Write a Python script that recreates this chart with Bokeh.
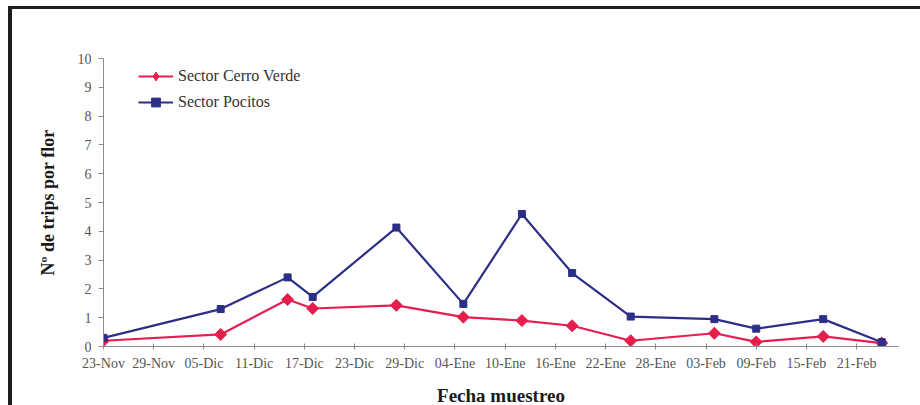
from math import pi
from bokeh.plotting import figure
from bokeh.models import FixedTicker, Legend, LegendItem
from bokeh.embed import file_html
from bokeh.resources import INLINE

# ---- data ----
tick_days = [0, 6, 12, 18, 24, 30, 36, 42, 48, 54, 60, 66, 72, 78, 84, 90]  # days since 23-Nov
tick_labels = ["23-Nov", "29-Nov", "05-Dic", "11-Dic", "17-Dic", "23-Dic", "29-Dic",
               "04-Ene", "10-Ene", "16-Ene", "22-Ene", "28-Ene", "03-Feb", "09-Feb",
               "15-Feb", "21-Feb"]
sample_day = [0, 14, 22, 25, 35, 43, 50, 56, 63, 73, 78, 86, 93]
cerro_verde = [0.2, 0.42, 1.63, 1.32, 1.43, 1.02, 0.9, 0.72, 0.2, 0.46, 0.16, 0.35, 0.12]
pocitos = [0.3, 1.3, 2.4, 1.72, 4.13, 1.48, 4.6, 2.55, 1.04, 0.95, 0.62, 0.95, 0.15]
series_names = ["Sector Cerro Verde", "Sector Pocitos"]

RED = "#E61E4D"
BLUE = "#2B2F88"
SERIF = "Liberation Serif"

p = figure(width=912, height=399, x_range=(0, 95), y_range=(0, 10),
           output_backend="svg", toolbar_location=None,
           min_border_left=91, min_border_right=26, min_border_top=49, min_border_bottom=59)
p.styles = {"margin-left": "8px", "margin-top": "6px",
            "border-left": "4px solid #1e1e1e", "border-top": "3px solid #1e1e1e"}

p.outline_line_color = None
p.xgrid.visible = False
p.ygrid.visible = False
p.background_fill_color = "white"
p.border_fill_color = "white"

r_line = p.line(sample_day, cerro_verde, color=RED, line_width=2.2)
p.scatter(sample_day, cerro_verde, marker="square", angle=pi / 4, size=8.5,
          fill_color=RED, line_color=RED)
# legend key only (hidden in the plot area)
r_key = p.scatter(sample_day, cerro_verde, marker="diamond", fill_color=RED, line_color=RED,
                  visible=False)
b_line = p.line(sample_day, pocitos, color=BLUE, line_width=2.2)
b_pts = p.scatter(sample_day, pocitos, marker="square", size=7,
                  fill_color=BLUE, line_color=BLUE)

lg = Legend(items=[LegendItem(label=series_names[0], renderers=[r_line, r_key]),
                   LegendItem(label=series_names[1], renderers=[b_line, b_pts])])
p.add_layout(lg)

# x axis
xa = p.xaxis[0]
xa.ticker = FixedTicker(ticks=tick_days)
xa.major_label_overrides = {d: l for d, l in zip(tick_days, tick_labels)}
xa.major_tick_in = 3
xa.major_tick_out = 3
xa.minor_tick_line_color = None
xa.major_label_standoff = 6
xa.axis_label = "Fecha muestreo"
xa.axis_label_standoff = 11

# y axis
ya = p.yaxis[0]
ya.ticker = FixedTicker(ticks=list(range(0, 11)))
ya.major_tick_in = 0
ya.major_tick_out = 5
ya.minor_tick_line_color = None
ya.major_label_standoff = 7
ya.axis_label = "Nº de trips por flor"
ya.axis_label_standoff = 17

for ax in (xa, ya):
    ax.axis_line_color = "#8c8c8c"
    ax.major_tick_line_color = "#8c8c8c"
    ax.major_label_text_font = SERIF
    ax.major_label_text_font_size = "14px"
    ax.major_label_text_color = "#555555"
    ax.axis_label_text_font = SERIF
    ax.axis_label_text_font_style = "bold"
    ax.axis_label_text_color = "#1a1a1a"
xa.axis_label_text_font_size = "19px"
ya.axis_label_text_font_size = "18px"

lg.location = (35, 233)
lg.margin = 0
lg.padding = 0
lg.spacing = 4
lg.glyph_width = 35
lg.glyph_height = 22
lg.label_height = 20
lg.label_standoff = 5
lg.label_text_font = SERIF
lg.label_text_font_size = "16px"
lg.label_text_color = "#333333"
lg.background_fill_alpha = 0
lg.border_line_alpha = 0
lg.inactive_fill_alpha = 0

open("out.html", "w").write(file_html(p, INLINE))
